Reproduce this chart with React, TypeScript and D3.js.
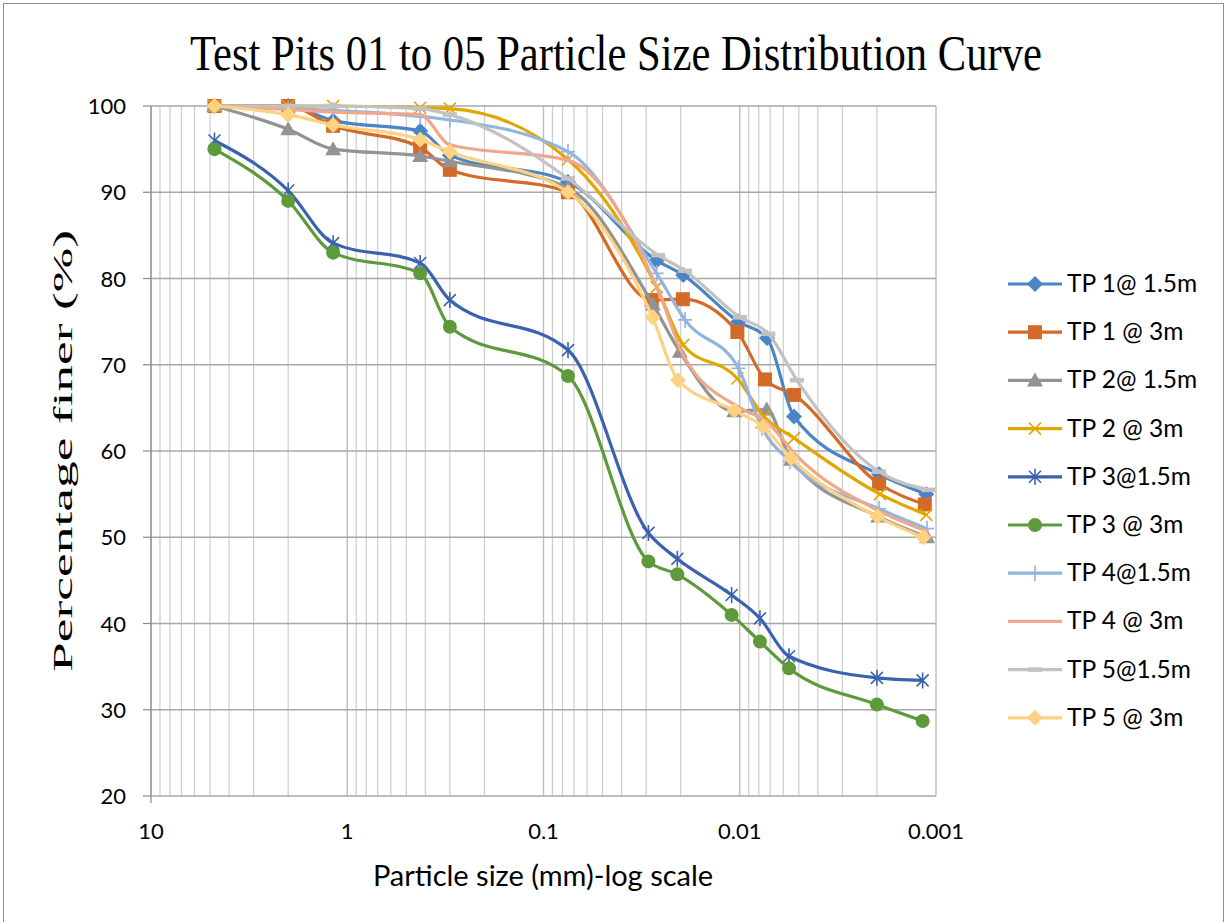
import React from "react";
import * as d3 from "d3";

// ---------- data ----------
const sieveSizes = [4.75, 2.0, 1.18, 0.425, 0.3, 0.075];

const seriesNames = [
  "TP 1@ 1.5m",
  "TP 1 @ 3m",
  "TP 2@ 1.5m",
  "TP 2 @ 3m",
  "TP 3@1.5m",
  "TP 3 @ 3m",
  "TP 4@1.5m",
  "TP 4 @ 3m",
  "TP 5@1.5m",
  "TP 5 @ 3m",
];

// hydrometer particle sizes (mm) per series
const hydroTP1_15 = [0.0265, 0.0194, 0.01016, 0.00726, 0.00529, 0.00195, 0.00112];
const hydroTP1_3 = [0.0281, 0.0195, 0.01028, 0.00744, 0.00529, 0.00195, 0.00114];
const hydroTP2_15 = [0.0277, 0.0202, 0.01066, 0.00729, 0.00548, 0.00197, 0.00111];
const hydroTP2_3 = [0.0265, 0.0194, 0.01028, 0.00752, 0.00529, 0.00193, 0.00112];
const hydroTP3_15 = [0.0292, 0.0208, 0.011, 0.00789, 0.00561, 0.002, 0.00117];
const hydroTP3_3 = [0.0292, 0.0208, 0.011, 0.00789, 0.00561, 0.002, 0.00117];
const hydroTP4_15 = [0.0265, 0.019, 0.01016, 0.00771, 0.00555, 0.00195, 0.00111];
const hydroTP4_3 = [0.0255, 0.0194, 0.00997, 0.00729, 0.00511, 0.00193, 0.00109];
const hydroTP5_15 = [0.026, 0.019, 0.00997, 0.00715, 0.00511, 0.00195, 0.00109];
const hydroTP5_3 = [0.0278, 0.0206, 0.01066, 0.00759, 0.00548, 0.00199, 0.00116];

// percentage finer
const finerTP1_15 = [100, 100, 98.3, 97.1, 94.3, 91.2, 82.1, 80.4, 75.0, 73.1, 64.0, 57.3, 55.0];
const finerTP1_3 = [100, 100, 97.7, 95.2, 92.6, 90.0, 77.5, 77.6, 73.8, 68.3, 66.5, 56.2, 53.8];
const finerTP2_15 = [100, 97.3, 95.0, 94.2, 93.6, 90.5, 77.0, 71.5, 64.6, 64.8, 59.0, 52.4, 50.0];
const finerTP2_3 = [100, 100, 100, 99.8, 99.7, 93.8, 79.0, 72.3, 68.4, 64.0, 61.5, 55.0, 52.6];
const finerTP3_15 = [96.0, 90.2, 84.1, 81.8, 77.5, 71.7, 50.5, 47.5, 43.3, 40.6, 36.2, 33.7, 33.4];
const finerTP3_3 = [95.0, 89.0, 83.0, 80.6, 74.4, 68.7, 47.2, 45.7, 41.0, 37.9, 34.8, 30.6, 28.7];
const finerTP4_15 = [100, 99.7, 99.5, 98.8, 98.4, 94.7, 80.6, 75.2, 69.6, 62.7, 58.8, 53.3, 51.0];
const finerTP4_3 = [100, 99.6, 99.3, 99.0, 95.5, 93.7, 78.1, 71.1, 65.0, 63.4, 59.4, 53.0, 50.6];
const finerTP5_15 = [100, 100, 100, 99.7, 99.0, 91.6, 82.7, 80.9, 75.5, 73.6, 68.2, 57.6, 55.5];
const finerTP5_3 = [100, 99.0, 97.8, 96.1, 94.7, 90.0, 75.5, 68.2, 64.7, 62.8, 59.2, 52.4, 50.0];

const hydroSizes = [
  hydroTP1_15, hydroTP1_3, hydroTP2_15, hydroTP2_3, hydroTP3_15,
  hydroTP3_3, hydroTP4_15, hydroTP4_3, hydroTP5_15, hydroTP5_3,
];
const finerValues = [
  finerTP1_15, finerTP1_3, finerTP2_15, finerTP2_3, finerTP3_15,
  finerTP3_3, finerTP4_15, finerTP4_3, finerTP5_15, finerTP5_3,
];

const xTicks = [10, 1, 0.1, 0.01, 0.001];
const xTickLabels = ["10", "1", "0.1", "0.01", "0.001"];
const yTicks = [20, 30, 40, 50, 60, 70, 80, 90, 100];

// ---------- styles ----------
const colors = [
  "#4A86C5", "#D46A28", "#939393", "#E2A600", "#3B62AF",
  "#5E9A3C", "#92B5DF", "#F0A78B", "#C2C2C2", "#FFD282",
];
const markers = [
  "diamond", "square", "triangle", "x", "star",
  "circle", "plus", "none", "dash", "diamond",
];

const W = 1227;
const H = 922;
const left = 151, right = 936, top = 106, bottom = 796;
const sans = "Lato, 'Open Sans', sans-serif";
const serif = "'Liberation Serif', 'DejaVu Serif', serif";

function Marker({ type, x, y, color }: { type: string; x: number; y: number; color: string }) {
  switch (type) {
    case "diamond":
      return <path d={`M${x},${y - 8}L${x + 8},${y}L${x},${y + 8}L${x - 8},${y}Z`} fill={color} />;
    case "square":
      return <rect x={x - 7} y={y - 7} width={14} height={14} fill={color} />;
    case "triangle":
      return <path d={`M${x},${y - 8}L${x + 8},${y + 6}L${x - 8},${y + 6}Z`} fill={color} />;
    case "circle":
      return <circle cx={x} cy={y} r={7} fill={color} />;
    case "x":
      return (
        <path d={`M${x - 6},${y - 6}L${x + 6},${y + 6}M${x - 6},${y + 6}L${x + 6},${y - 6}`} stroke={color} strokeWidth={1.6} />
      );
    case "star":
      return (
        <path
          d={`M${x - 6},${y - 6}L${x + 6},${y + 6}M${x - 6},${y + 6}L${x + 6},${y - 6}M${x},${y - 8}L${x},${y + 8}`}
          stroke={color}
          strokeWidth={1.6}
        />
      );
    case "plus":
      return (
        <path d={`M${x - 7},${y}L${x + 7},${y}M${x},${y - 8}L${x},${y + 8}`} stroke={color} strokeWidth={1.6} />
      );
    case "dash":
      return <path d={`M${x - 7},${y}L${x + 7},${y}`} stroke={color} strokeWidth={4.5} />;
    default:
      return null;
  }
}

export default function App() {
  const x = d3.scaleLog().domain([10, 0.001]).range([left, right]);
  const y = d3.scaleLinear().domain([20, 100]).range([bottom, top]);

  const minorX: number[] = [];
  for (let e = -3; e < 1; e++) {
    for (let m = 2; m <= 9; m++) minorX.push(m * Math.pow(10, e));
  }

  const line = d3
    .line<[number, number]>()
    .x((d) => x(d[0]))
    .y((d) => y(d[1]))
    .curve(d3.curveMonotoneX);

  const series = seriesNames.map((name, i) => {
    const sizes = sieveSizes.concat(hydroSizes[i]);
    const pts: [number, number][] = sizes.map((s, j) => [s, finerValues[i][j]]);
    return { name, pts, color: colors[i], marker: markers[i] };
  });

  const legendX1 = 1008, legendX2 = 1062, legendY0 = 284, legendStep = 48.2;

  return (
    <div style={{ position: "absolute", left: 0, top: 0, width: W, height: H, background: "#fff" }}>
      <svg width={W} height={H} style={{ display: "block" }}>
        <rect x={0} y={0} width={W} height={H} fill="#fff" />
        <rect x={3.5} y={3.5} width={1220} height={930} fill="none" stroke="#8E8E8E" strokeWidth={1} />

        {/* title */}
        <text
          x={616}
          y={70}
          textAnchor="middle"
          fontFamily={serif}
          fontSize={50}
          textLength={852}
          lengthAdjust="spacingAndGlyphs"
          fill="#000"
        >
          Test Pits 01 to 05 Particle Size Distribution Curve
        </text>

        {/* minor vertical gridlines */}
        {minorX.map((v, i) => (
          <line key={"mx" + i} x1={x(v)} x2={x(v)} y1={top} y2={bottom} stroke="#CDCDCD" strokeWidth={1.2} />
        ))}
        {/* major vertical gridlines */}
        {xTicks.map((v, i) => (
          <line key={"vx" + i} x1={x(v)} x2={x(v)} y1={top} y2={bottom} stroke="#BDBDBD" strokeWidth={1.4} />
        ))}
        {/* horizontal gridlines */}
        {yTicks.map((v, i) => (
          <line key={"hy" + i} x1={left} x2={right} y1={y(v)} y2={y(v)} stroke="#A8A8A8" strokeWidth={1.4} />
        ))}

        {/* axis lines & ticks */}
        <line x1={left} x2={left} y1={top} y2={bottom + 7} stroke="#8A8A8A" strokeWidth={1.2} />
        {yTicks.map((v, i) => (
          <line key={"yt" + i} x1={left - 8} x2={left} y1={y(v)} y2={y(v)} stroke="#8A8A8A" strokeWidth={1.2} />
        ))}

        {/* tick labels */}
        {yTicks.map((v, i) => (
          <text key={"yl" + i} x={126} y={y(v) + 8} textAnchor="end" fontFamily={sans} fontSize={22} fill="#000">
            {v}
          </text>
        ))}
        {xTicks.map((v, i) => (
          <text key={"xl" + i} x={x(v)} y={839} textAnchor="middle" fontFamily={sans} fontSize={22} fill="#000">
            {xTickLabels[i]}
          </text>
        ))}

        {/* axis titles */}
        <text x={543} y={886} textAnchor="middle" fontFamily={sans} fontSize={29} fill="#000">
          Particle size (mm)-log scale
        </text>
        <text
          transform={`translate(72,451) scale(0.78,1) rotate(-90)`}
          textAnchor="middle"
          fontFamily={serif}
          fontSize={34}
          textLength={442}
          lengthAdjust="spacingAndGlyphs"
          fill="#000"
        >
          Percentage finer (%)
        </text>

        {/* series */}
        {series.map((s, i) => (
          <g key={"s" + i}>
            <path d={line(s.pts) || ""} fill="none" stroke={s.color} strokeWidth={3.2} strokeLinejoin="round" />
            {s.pts.map((p, j) => (
              <Marker key={j} type={s.marker} x={x(p[0])} y={y(p[1])} color={s.color} />
            ))}
          </g>
        ))}

        {/* legend */}
        {series.map((s, i) => {
          const ly = legendY0 + i * legendStep;
          const cx = (legendX1 + legendX2) / 2;
          return (
            <g key={"lg" + i}>
              <line x1={legendX1} x2={legendX2} y1={ly} y2={ly} stroke={s.color} strokeWidth={3.2} />
              <Marker type={s.marker} x={cx} y={ly} color={s.color} />
              <text x={1067} y={ly + 8} fontFamily={sans} fontSize={24.5} fill="#000">
                {s.name}
              </text>
            </g>
          );
        })}
      </svg>
    </div>
  );
}
